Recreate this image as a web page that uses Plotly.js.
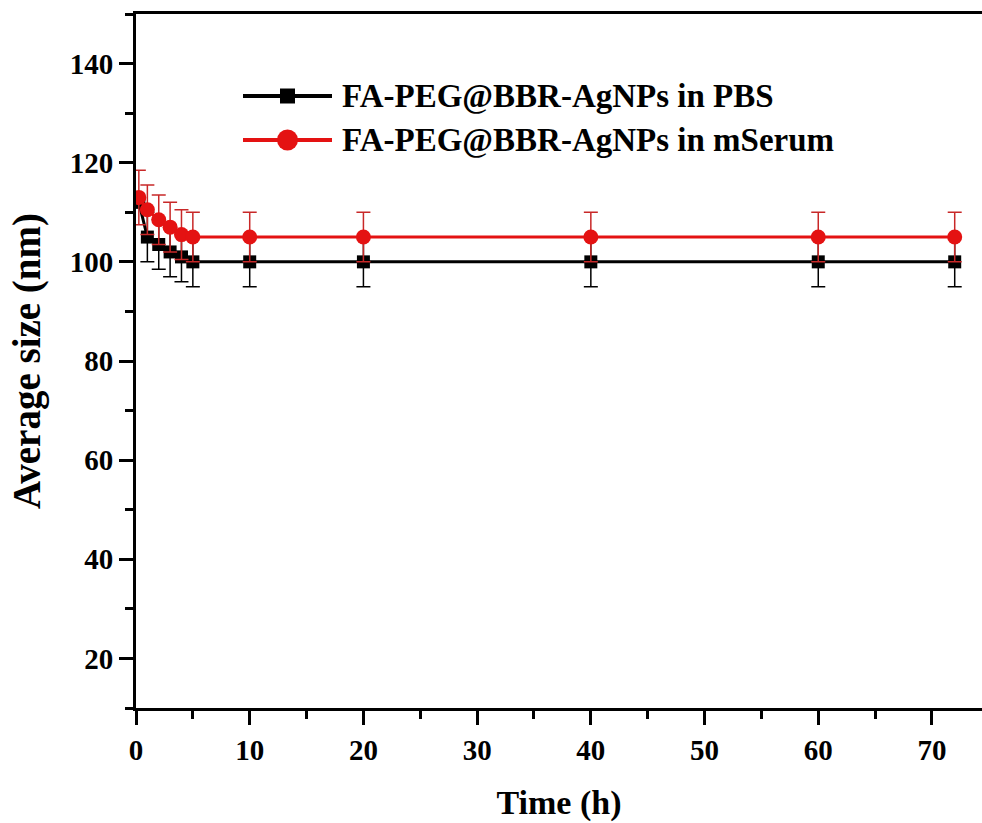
<!DOCTYPE html>
<html>
<head>
<meta charset="utf-8">
<script src="https://cdn.plot.ly/plotly-3.0.1.min.js"></script>
<style>html,body{margin:0;padding:0;background:#fff;}#chart{width:982px;height:823px;}</style>
</head>
<body>
<div id="chart"></div>
<script>
var timeH = [0.25, 1, 2, 3, 4, 5, 10, 20, 40, 60, 72];
var pbsSize = [112, 105, 103.5, 102, 101, 100, 100, 100, 100, 100, 100];
var pbsErr = [1, 5, 5, 5, 5, 5, 5, 5, 5, 5, 5];
var serumSize = [113, 110.5, 108.5, 107, 105.5, 105, 105, 105, 105, 105, 105];
var serumErr = [5.5, 5, 5, 5, 5, 5, 5, 5, 5, 5, 5];
var seriesNames = ["FA-PEG@BBR-AgNPs in PBS", "FA-PEG@BBR-AgNPs in mSerum"];
var xTicks = [0, 10, 20, 30, 40, 50, 60, 70];
var yTicks = [20, 40, 60, 80, 100, 120, 140];

var FONT = "Liberation Serif, Times New Roman, serif";
var BLACK = "#000000";
var RED = "rgb(228,18,18)";
var RED_ERR = "rgb(200,40,40)";

var traces = [
  {
    x: timeH, y: pbsSize, name: seriesNames[0], type: "scatter", mode: "lines+markers",
    line: {color: BLACK, width: 3},
    marker: {symbol: "square", size: 13, color: BLACK},
    error_y: {type: "data", array: pbsErr, visible: true, color: BLACK, thickness: 1.5, width: 7}
  },
  {
    x: timeH, y: serumSize, name: seriesNames[1], type: "scatter", mode: "lines+markers",
    line: {color: RED, width: 3},
    marker: {symbol: "circle", size: 15, color: RED},
    error_y: {type: "data", array: serumErr, visible: true, color: RED_ERR, thickness: 1.5, width: 7}
  }
];

// Legend drawn in paper coordinates (plot area: x 136..982 px, y 14..708 px)
var plotL = 136, plotW = 846, plotT = 14, plotH = 694;
function px(v) { return (v - plotL) / plotW; }
function py(v) { return (708 - v) / plotH; }
var legRows = [96, 140];
var legColors = [BLACK, RED];
var shapes = [];
var annotations = [];
legRows.forEach(function (ry, i) {
  shapes.push({type: "line", xref: "paper", yref: "paper", x0: px(243), x1: px(332), y0: py(ry), y1: py(ry),
    line: {color: legColors[i], width: 4}});
  if (i === 0) {
    shapes.push({type: "rect", xref: "paper", yref: "paper", x0: px(280), x1: px(295), y0: py(ry + 7.5), y1: py(ry - 7.5),
      fillcolor: BLACK, line: {width: 0}});
  } else {
    shapes.push({type: "circle", xref: "paper", yref: "paper", x0: px(277), x1: px(298), y0: py(ry + 10.5), y1: py(ry - 10.5),
      fillcolor: RED, line: {width: 0}});
  }
  annotations.push({xref: "paper", yref: "paper", x: px(340), y: py(ry), xanchor: "left", yanchor: "middle",
    text: seriesNames[i], showarrow: false,
    font: {family: FONT, size: 33, color: BLACK, weight: "bold"}});
});

var layout = {
  width: 982, height: 823,
  margin: {l: 136, r: 0, t: 14, b: 115},
  paper_bgcolor: "#ffffff", plot_bgcolor: "#ffffff",
  font: {family: FONT, color: BLACK},
  showlegend: false,
  shapes: shapes,
  annotations: annotations,
  xaxis: {
    range: [0, 74.4], showgrid: false, zeroline: false,
    showline: true, linecolor: BLACK, linewidth: 3, mirror: true,
    ticks: "outside", ticklen: 14, tickwidth: 3, tickcolor: BLACK,
    tickvals: xTicks, ticktext: xTicks.map(String),
    tickfont: {family: FONT, size: 29, color: BLACK, weight: "bold"},
    minor: {dtick: 5, tick0: 0, ticks: "outside", ticklen: 8, tickwidth: 3, tickcolor: BLACK},
    title: {text: "Time (h)", font: {family: FONT, size: 34, color: BLACK, weight: "bold"}, standoff: 26}
  },
  yaxis: {
    range: [10, 150], showgrid: false, zeroline: false,
    showline: true, linecolor: BLACK, linewidth: 3, mirror: false,
    ticks: "outside", ticklen: 14, tickwidth: 3, tickcolor: BLACK,
    tickvals: yTicks, ticktext: yTicks.map(String),
    tickfont: {family: FONT, size: 29, color: BLACK, weight: "bold"},
    minor: {dtick: 10, tick0: 10, ticks: "outside", ticklen: 8, tickwidth: 3, tickcolor: BLACK},
    title: {text: "Average size (nm)", font: {family: FONT, size: 39, color: BLACK, weight: "bold"}, standoff: 18}
  }
};

Plotly.newPlot("chart", traces, layout, {displayModeBar: false, staticPlot: true});
</script>
</body>
</html>
